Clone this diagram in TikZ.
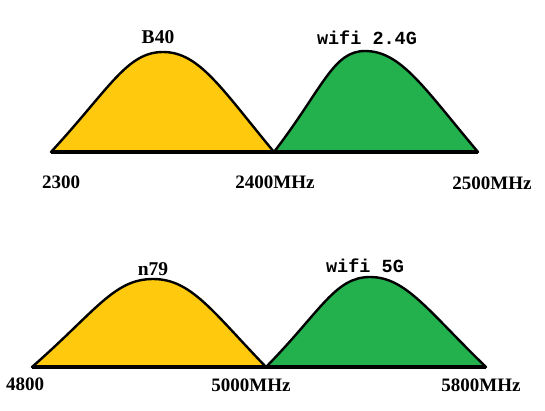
\documentclass[tikz,border=0pt]{standalone}
\usepackage{fontspec}
\setmainfont{Liberation Serif}
\newfontfamily\monofam{Liberation Mono}
\usetikzlibrary{positioning}

\definecolor{bandyellow}{HTML}{FFC90E}
\definecolor{bandgreen}{HTML}{22B14C}

\begin{document}
\begin{tikzpicture}[
    x=1pt, y=-1pt,
    band/.style={draw=black, line width=2.4pt, line join=round, fill=#1},
    axisline/.style={line width=4.5pt},
    freq/.style={font=\bfseries\fontsize{19}{19}\selectfont},
    bandname/.style={font=\bfseries\fontsize{19.5}{19.5}\selectfont},
    wifiname/.style={font=\monofam\bfseries\fontsize{18.5}{18.5}\selectfont}
]
\useasboundingbox (0,0) rectangle (545,410);

% 2.4G band (top)
\coordinate (topL) at (51,152);
\coordinate (topM) at (274,152);
\coordinate (topR) at (478,152);
\draw[band=bandyellow] (topL) .. controls (110,88) and (127,52) .. (163,52)
    .. controls (199,52) and (221,88) .. (topM) -- cycle;
\draw[band=bandgreen] (topM) .. controls (323,88) and (333,51) .. (365,51)
    .. controls (401,51) and (424,88) .. (topR) -- cycle;
\draw[axisline] (topL) -- (topR);

\node[bandname] (b40) at (158,37) {B40};
\node[wifiname] (wifi24) at (367,38) {wifi 2.4G};
\node[freq] (f2300) at (61,182) {2300};
\node[freq] (f2400) at (275,182) {2400MHz};
\node[freq] (f2500) at (492,183) {2500MHz};

% 5G band (bottom)
\coordinate (botL) at (32,367);
\coordinate (botM) at (266,367);
\coordinate (botR) at (486,367);
\draw[band=bandyellow] (botL) .. controls (96,311) and (114,279) .. (153,279)
    .. controls (191,279) and (212,311) .. (botM) -- cycle;
\draw[band=bandgreen] (botM) .. controls (321,311) and (335,277) .. (370,277)
    .. controls (406,277) and (428,311) .. (botR) -- cycle;
\draw[axisline] (botL) -- (botR);

\node[bandname] (n79) at (153,269) {n79};
\node[wifiname] (wifi5) at (365,266) {wifi 5G};
\node[freq] (f4800) at (25,384) {4800};
\node[freq] (f5000) at (251,385) {5000MHz};
\node[freq] (f5800) at (481,385) {5800MHz};

\end{tikzpicture}
\end{document}
